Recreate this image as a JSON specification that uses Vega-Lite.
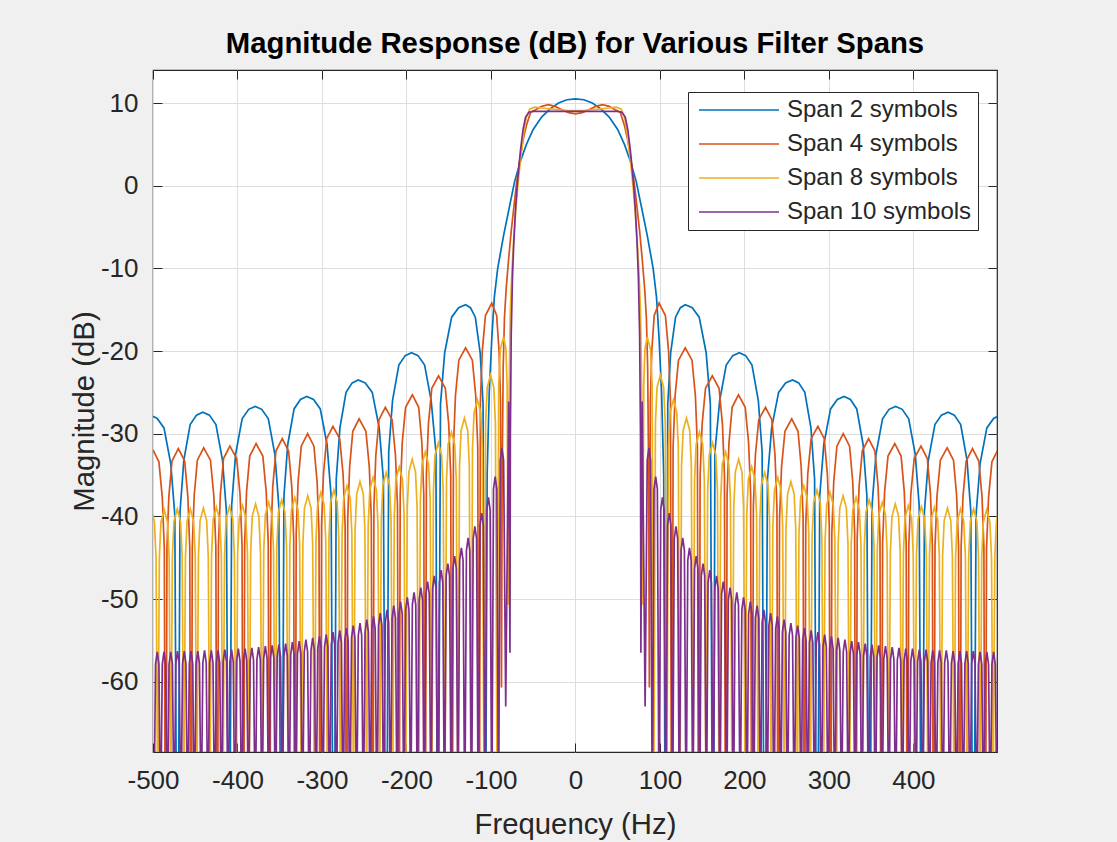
{
"$schema": "https://vega.github.io/schema/vega-lite/v6.json",
"width": 844,
"height": 682,
"autosize": {"type": "none"},
"padding": {"left": 153, "top": 70, "right": 120, "bottom": 90},
"background": "#f0f0f0",
"title": {"text": "Magnitude Response (dB) for Various Filter Spans", "font": "Liberation Sans", "fontSize": 29.3, "fontWeight": "bold", "color": "#000000", "anchor": "middle", "offset": 10},
"config": {"view": {"stroke": "#262626", "strokeWidth": 1.2, "fill": "white"}},
"datasets": {
"s2": [
{"f":0,"d":10.5},{"f":10,"d":10.4},{"f":20,"d":10},{"f":30,"d":9.3},{"f":40,"d":8.3},{"f":50,"d":6.8},{"f":58,"d":5},{"f":65,"d":3},{"f":72,"d":0.5},{"f":78,"d":-2.5},{"f":85,"d":-6},{"f":92,"d":-10},{"f":96,"d":-13.5},{"f":99,"d":-18.5},{"f":102,"d":-25},{"f":104.5,"d":-35},{"f":107,"d":-100},
{"f":109.3,"d":-26.4},{"f":112.75,"d":-20.2},{"f":118.5,"d":-15.9},{"f":124.25,"d":-14.75},{"f":130,"d":-14.4},{"f":138.25,"d":-14.75},{"f":146.5,"d":-15.9},{"f":154.75,"d":-20.2},{"f":159.7,"d":-26.4},{"f":163,"d":-100},
{"f":165.1,"d":-32.2},{"f":170.75,"d":-26},{"f":178.5,"d":-21.7},{"f":186.25,"d":-20.55},{"f":194,"d":-20.2},{"f":201.5,"d":-20.55},{"f":209,"d":-21.7},{"f":216.5,"d":-26},{"f":221,"d":-32.2},{"f":224,"d":-100},
{"f":227.3,"d":-35.5},{"f":232.25,"d":-29.3},{"f":240.5,"d":-25},{"f":248.75,"d":-23.85},{"f":257,"d":-23.5},{"f":264.25,"d":-23.85},{"f":271.5,"d":-25},{"f":278.75,"d":-29.3},{"f":283.1,"d":-35.5},{"f":286,"d":-100},
{"f":289.2,"d":-37.5},{"f":294,"d":-31.3},{"f":302,"d":-27},{"f":310,"d":-25.85},{"f":318,"d":-25.5},{"f":325.5,"d":-25.85},{"f":333,"d":-27},{"f":340.5,"d":-31.3},{"f":345,"d":-37.5},{"f":348,"d":-100},
{"f":351.1,"d":-38.7},{"f":355.75,"d":-32.5},{"f":363.5,"d":-28.2},{"f":371.25,"d":-27.05},{"f":379,"d":-26.7},{"f":386.75,"d":-27.05},{"f":394.5,"d":-28.2},{"f":402.25,"d":-32.5},{"f":406.9,"d":-38.7},{"f":410,"d":-100},
{"f":413.1,"d":-39.4},{"f":417.75,"d":-33.2},{"f":425.5,"d":-28.9},{"f":433.25,"d":-27.75},{"f":441,"d":-27.4},{"f":448.5,"d":-27.75},{"f":456,"d":-28.9},{"f":463.5,"d":-33.2},{"f":468,"d":-39.4},{"f":471,"d":-100},
{"f":474.2,"d":-39.8},{"f":479,"d":-33.6},{"f":487,"d":-29.3},{"f":495,"d":-28.15},{"f":500,"d":-27.9},
{"f":-10,"d":10.4},{"f":-20,"d":10},{"f":-30,"d":9.3},{"f":-40,"d":8.3},{"f":-50,"d":6.8},{"f":-58,"d":5},{"f":-65,"d":3},{"f":-72,"d":0.5},{"f":-78,"d":-2.5},{"f":-85,"d":-6},{"f":-92,"d":-10},{"f":-96,"d":-13.5},{"f":-99,"d":-18.5},{"f":-102,"d":-25},{"f":-104.5,"d":-35},{"f":-107,"d":-100},
{"f":-109.3,"d":-26.4},{"f":-112.75,"d":-20.2},{"f":-118.5,"d":-15.9},{"f":-124.25,"d":-14.75},{"f":-130,"d":-14.4},{"f":-138.25,"d":-14.75},{"f":-146.5,"d":-15.9},{"f":-154.75,"d":-20.2},{"f":-159.7,"d":-26.4},{"f":-163,"d":-100},
{"f":-165.1,"d":-32.2},{"f":-170.75,"d":-26},{"f":-178.5,"d":-21.7},{"f":-186.25,"d":-20.55},{"f":-194,"d":-20.2},{"f":-201.5,"d":-20.55},{"f":-209,"d":-21.7},{"f":-216.5,"d":-26},{"f":-221,"d":-32.2},{"f":-224,"d":-100},
{"f":-227.3,"d":-35.5},{"f":-232.25,"d":-29.3},{"f":-240.5,"d":-25},{"f":-248.75,"d":-23.85},{"f":-257,"d":-23.5},{"f":-264.25,"d":-23.85},{"f":-271.5,"d":-25},{"f":-278.75,"d":-29.3},{"f":-283.1,"d":-35.5},{"f":-286,"d":-100},
{"f":-289.2,"d":-37.5},{"f":-294,"d":-31.3},{"f":-302,"d":-27},{"f":-310,"d":-25.85},{"f":-318,"d":-25.5},{"f":-325.5,"d":-25.85},{"f":-333,"d":-27},{"f":-340.5,"d":-31.3},{"f":-345,"d":-37.5},{"f":-348,"d":-100},
{"f":-351.1,"d":-38.7},{"f":-355.75,"d":-32.5},{"f":-363.5,"d":-28.2},{"f":-371.25,"d":-27.05},{"f":-379,"d":-26.7},{"f":-386.75,"d":-27.05},{"f":-394.5,"d":-28.2},{"f":-402.25,"d":-32.5},{"f":-406.9,"d":-38.7},{"f":-410,"d":-100},
{"f":-413.1,"d":-39.4},{"f":-417.75,"d":-33.2},{"f":-425.5,"d":-28.9},{"f":-433.25,"d":-27.75},{"f":-441,"d":-27.4},{"f":-448.5,"d":-27.75},{"f":-456,"d":-28.9},{"f":-463.5,"d":-33.2},{"f":-468,"d":-39.4},{"f":-471,"d":-100},
{"f":-474.2,"d":-39.8},{"f":-479,"d":-33.6},{"f":-487,"d":-29.3},{"f":-495,"d":-28.15},{"f":-500,"d":-27.9}
],
"s4": [
{"f":0,"d":8.7},{"f":8,"d":8.85},{"f":16,"d":9.2},{"f":24,"d":9.6},{"f":32,"d":9.8},{"f":40,"d":9.6},{"f":47,"d":9.2},{"f":53,"d":8.9},{"f":58,"d":7.3},{"f":62,"d":5.5},{"f":66,"d":3},{"f":70,"d":0},{"f":73,"d":-2.7},{"f":76,"d":-5.5},{"f":79,"d":-8.8},{"f":82,"d":-12.5},{"f":84,"d":-16},{"f":85.5,"d":-22},{"f":86.7,"d":-35},{"f":87.5,"d":-60.7},
{"f":88.65,"d":-26.2},{"f":90.4,"d":-20},{"f":93.25,"d":-15.7},{"f":99,"d":-14.2},{"f":106.5,"d":-15.7},{"f":110.25,"d":-20},{"f":112.5,"d":-26.2},{"f":114,"d":-100},
{"f":115.6,"d":-31.6},{"f":118,"d":-25.4},{"f":122,"d":-21.1},{"f":130,"d":-19.6},{"f":138,"d":-21.1},{"f":142,"d":-25.4},{"f":144.4,"d":-31.6},{"f":146,"d":-100},
{"f":147.6,"d":-35},{"f":150,"d":-28.8},{"f":154,"d":-24.5},{"f":162,"d":-23},{"f":170,"d":-24.5},{"f":174,"d":-28.8},{"f":176.4,"d":-35},{"f":178,"d":-100},
{"f":179.5,"d":-37.3},{"f":181.75,"d":-31.1},{"f":185.5,"d":-26.8},{"f":193,"d":-25.3},{"f":201,"d":-26.8},{"f":205,"d":-31.1},{"f":207.4,"d":-37.3},{"f":209,"d":-100},
{"f":210.6,"d":-38.8},{"f":213,"d":-32.6},{"f":217,"d":-28.3},{"f":225,"d":-26.8},{"f":232.5,"d":-28.3},{"f":236.25,"d":-32.6},{"f":238.5,"d":-38.8},{"f":240,"d":-100},
{"f":241.6,"d":-40.2},{"f":244,"d":-34},{"f":248,"d":-29.7},{"f":256,"d":-28.2},{"f":263.5,"d":-29.7},{"f":267.25,"d":-34},{"f":269.5,"d":-40.2},{"f":271,"d":-100},
{"f":272.6,"d":-41.1},{"f":275,"d":-34.9},{"f":279,"d":-30.6},{"f":287,"d":-29.1},{"f":294.5,"d":-30.6},{"f":298.25,"d":-34.9},{"f":300.5,"d":-41.1},{"f":302,"d":-100},
{"f":303.5,"d":-42},{"f":305.75,"d":-35.8},{"f":309.5,"d":-31.5},{"f":317,"d":-30},{"f":324.5,"d":-31.5},{"f":328.25,"d":-35.8},{"f":330.5,"d":-42},{"f":332,"d":-100},
{"f":333.5,"d":-42.6},{"f":335.75,"d":-36.4},{"f":339.5,"d":-32.1},{"f":347,"d":-30.6},{"f":354.5,"d":-32.1},{"f":358.25,"d":-36.4},{"f":360.5,"d":-42.6},{"f":362,"d":-100},
{"f":363.6,"d":-43.2},{"f":366,"d":-37},{"f":370,"d":-32.7},{"f":378,"d":-31.2},{"f":385.5,"d":-32.7},{"f":389.25,"d":-37},{"f":391.5,"d":-43.2},{"f":393,"d":-100},
{"f":394.6,"d":-43.5},{"f":397,"d":-37.3},{"f":401,"d":-33},{"f":409,"d":-31.5},{"f":416.5,"d":-33},{"f":420.25,"d":-37.3},{"f":422.5,"d":-43.5},{"f":424,"d":-100},
{"f":425.6,"d":-43.7},{"f":428,"d":-37.5},{"f":432,"d":-33.2},{"f":440,"d":-31.7},{"f":447.5,"d":-33.2},{"f":451.25,"d":-37.5},{"f":453.5,"d":-43.7},{"f":455,"d":-100},
{"f":456.5,"d":-43.8},{"f":458.75,"d":-37.6},{"f":462.5,"d":-33.3},{"f":470,"d":-31.8},{"f":477.5,"d":-33.3},{"f":481.25,"d":-37.6},{"f":483.5,"d":-43.8},{"f":485,"d":-100},
{"f":486.6,"d":-43.9},{"f":489,"d":-37.7},{"f":493,"d":-33.4},{"f":500,"d":-31.95},
{"f":-8,"d":8.85},{"f":-16,"d":9.2},{"f":-24,"d":9.6},{"f":-32,"d":9.8},{"f":-40,"d":9.6},{"f":-47,"d":9.2},{"f":-53,"d":8.9},{"f":-58,"d":7.3},{"f":-62,"d":5.5},{"f":-66,"d":3},{"f":-70,"d":0},{"f":-73,"d":-2.7},{"f":-76,"d":-5.5},{"f":-79,"d":-8.8},{"f":-82,"d":-12.5},{"f":-84,"d":-16},{"f":-85.5,"d":-22},{"f":-86.7,"d":-35},{"f":-87.5,"d":-60.7},
{"f":-88.65,"d":-26.2},{"f":-90.4,"d":-20},{"f":-93.25,"d":-15.7},{"f":-99,"d":-14.2},{"f":-106.5,"d":-15.7},{"f":-110.25,"d":-20},{"f":-112.5,"d":-26.2},{"f":-114,"d":-100},
{"f":-115.6,"d":-31.6},{"f":-118,"d":-25.4},{"f":-122,"d":-21.1},{"f":-130,"d":-19.6},{"f":-138,"d":-21.1},{"f":-142,"d":-25.4},{"f":-144.4,"d":-31.6},{"f":-146,"d":-100},
{"f":-147.6,"d":-35},{"f":-150,"d":-28.8},{"f":-154,"d":-24.5},{"f":-162,"d":-23},{"f":-170,"d":-24.5},{"f":-174,"d":-28.8},{"f":-176.4,"d":-35},{"f":-178,"d":-100},
{"f":-179.5,"d":-37.3},{"f":-181.75,"d":-31.1},{"f":-185.5,"d":-26.8},{"f":-193,"d":-25.3},{"f":-201,"d":-26.8},{"f":-205,"d":-31.1},{"f":-207.4,"d":-37.3},{"f":-209,"d":-100},
{"f":-210.6,"d":-38.8},{"f":-213,"d":-32.6},{"f":-217,"d":-28.3},{"f":-225,"d":-26.8},{"f":-232.5,"d":-28.3},{"f":-236.25,"d":-32.6},{"f":-238.5,"d":-38.8},{"f":-240,"d":-100},
{"f":-241.6,"d":-40.2},{"f":-244,"d":-34},{"f":-248,"d":-29.7},{"f":-256,"d":-28.2},{"f":-263.5,"d":-29.7},{"f":-267.25,"d":-34},{"f":-269.5,"d":-40.2},{"f":-271,"d":-100},
{"f":-272.6,"d":-41.1},{"f":-275,"d":-34.9},{"f":-279,"d":-30.6},{"f":-287,"d":-29.1},{"f":-294.5,"d":-30.6},{"f":-298.25,"d":-34.9},{"f":-300.5,"d":-41.1},{"f":-302,"d":-100},
{"f":-303.5,"d":-42},{"f":-305.75,"d":-35.8},{"f":-309.5,"d":-31.5},{"f":-317,"d":-30},{"f":-324.5,"d":-31.5},{"f":-328.25,"d":-35.8},{"f":-330.5,"d":-42},{"f":-332,"d":-100},
{"f":-333.5,"d":-42.6},{"f":-335.75,"d":-36.4},{"f":-339.5,"d":-32.1},{"f":-347,"d":-30.6},{"f":-354.5,"d":-32.1},{"f":-358.25,"d":-36.4},{"f":-360.5,"d":-42.6},{"f":-362,"d":-100},
{"f":-363.6,"d":-43.2},{"f":-366,"d":-37},{"f":-370,"d":-32.7},{"f":-378,"d":-31.2},{"f":-385.5,"d":-32.7},{"f":-389.25,"d":-37},{"f":-391.5,"d":-43.2},{"f":-393,"d":-100},
{"f":-394.6,"d":-43.5},{"f":-397,"d":-37.3},{"f":-401,"d":-33},{"f":-409,"d":-31.5},{"f":-416.5,"d":-33},{"f":-420.25,"d":-37.3},{"f":-422.5,"d":-43.5},{"f":-424,"d":-100},
{"f":-425.6,"d":-43.7},{"f":-428,"d":-37.5},{"f":-432,"d":-33.2},{"f":-440,"d":-31.7},{"f":-447.5,"d":-33.2},{"f":-451.25,"d":-37.5},{"f":-453.5,"d":-43.7},{"f":-455,"d":-100},
{"f":-456.5,"d":-43.8},{"f":-458.75,"d":-37.6},{"f":-462.5,"d":-33.3},{"f":-470,"d":-31.8},{"f":-477.5,"d":-33.3},{"f":-481.25,"d":-37.6},{"f":-483.5,"d":-43.8},{"f":-485,"d":-100},
{"f":-486.6,"d":-43.9},{"f":-489,"d":-37.7},{"f":-493,"d":-33.4},{"f":-500,"d":-31.95}
],
"s8": [
{"f":0,"d":9.1},{"f":10,"d":9.1},{"f":20,"d":9.2},{"f":30,"d":9.3},{"f":40,"d":9.4},{"f":48,"d":9.5},{"f":54,"d":9.3},{"f":58,"d":8.3},{"f":61,"d":6.5},{"f":64,"d":4},{"f":67,"d":1.2},{"f":69,"d":-1},{"f":71,"d":-3.5},{"f":73,"d":-6.5},{"f":75,"d":-10},{"f":77,"d":-15},{"f":78.5,"d":-25},{"f":79.5,"d":-50.7},
{"f":80.9,"d":-24.1},{"f":82.25,"d":-19.8},{"f":85,"d":-18.3},{"f":88.9,"d":-19.8},{"f":90.8,"d":-24.1},{"f":92.7,"d":-75},
{"f":94.7,"d":-28.7},{"f":96.6,"d":-24.4},{"f":100.5,"d":-22.9},{"f":104.4,"d":-24.4},{"f":106.3,"d":-28.7},{"f":108.2,"d":-75},
{"f":110.2,"d":-31.7},{"f":112.1,"d":-27.4},{"f":116,"d":-25.9},{"f":119.9,"d":-27.4},{"f":121.8,"d":-31.7},{"f":123.7,"d":-75},
{"f":125.6,"d":-33.9},{"f":127.5,"d":-29.6},{"f":131.4,"d":-28.1},{"f":135.3,"d":-29.6},{"f":137.2,"d":-33.9},{"f":139.1,"d":-75},
{"f":141,"d":-35.6},{"f":142.9,"d":-31.3},{"f":146.8,"d":-29.8},{"f":150.7,"d":-31.3},{"f":152.6,"d":-35.6},{"f":154.5,"d":-75},
{"f":156.5,"d":-36.9},{"f":158.4,"d":-32.6},{"f":162.3,"d":-31.1},{"f":166.2,"d":-32.6},{"f":168.1,"d":-36.9},{"f":170,"d":-75},
{"f":171.9,"d":-38},{"f":173.8,"d":-33.7},{"f":177.7,"d":-32.2},{"f":181.6,"d":-33.7},{"f":183.5,"d":-38},{"f":185.4,"d":-75},
{"f":187.4,"d":-38.9},{"f":189.3,"d":-34.6},{"f":193.2,"d":-33.1},{"f":197.1,"d":-34.6},{"f":199,"d":-38.9},{"f":200.9,"d":-75},
{"f":202.8,"d":-39.8},{"f":204.7,"d":-35.5},{"f":208.6,"d":-34},{"f":212.5,"d":-35.5},{"f":214.4,"d":-39.8},{"f":216.3,"d":-75},
{"f":218.2,"d":-40.5},{"f":220.1,"d":-36.2},{"f":224,"d":-34.7},{"f":227.9,"d":-36.2},{"f":229.8,"d":-40.5},{"f":231.7,"d":-75},
{"f":233.7,"d":-41.1},{"f":235.6,"d":-36.8},{"f":239.5,"d":-35.3},{"f":243.4,"d":-36.8},{"f":245.3,"d":-41.1},{"f":247.2,"d":-75},
{"f":249.2,"d":-41.6},{"f":251.1,"d":-37.3},{"f":255,"d":-35.8},{"f":258.9,"d":-37.3},{"f":260.8,"d":-41.6},{"f":262.7,"d":-75},
{"f":264.6,"d":-42.1},{"f":266.5,"d":-37.8},{"f":270.4,"d":-36.3},{"f":274.3,"d":-37.8},{"f":276.2,"d":-42.1},{"f":278.1,"d":-75},
{"f":280.1,"d":-42.6},{"f":282,"d":-38.3},{"f":285.9,"d":-36.8},{"f":289.8,"d":-38.3},{"f":291.7,"d":-42.6},{"f":293.6,"d":-75},
{"f":295.5,"d":-42.9},{"f":297.4,"d":-38.6},{"f":301.3,"d":-37.1},{"f":305.2,"d":-38.6},{"f":307.1,"d":-42.9},{"f":309,"d":-75},
{"f":311,"d":-43.3},{"f":312.9,"d":-39},{"f":316.8,"d":-37.5},{"f":320.7,"d":-39},{"f":322.6,"d":-43.3},{"f":324.5,"d":-75},
{"f":326.4,"d":-43.5},{"f":328.3,"d":-39.2},{"f":332.2,"d":-37.7},{"f":336.1,"d":-39.2},{"f":338,"d":-43.5},{"f":339.9,"d":-75},
{"f":341.9,"d":-43.8},{"f":343.8,"d":-39.5},{"f":347.7,"d":-38},{"f":351.6,"d":-39.5},{"f":353.5,"d":-43.8},{"f":355.4,"d":-75},
{"f":357.3,"d":-44.1},{"f":359.2,"d":-39.8},{"f":363.1,"d":-38.3},{"f":367,"d":-39.8},{"f":368.9,"d":-44.1},{"f":370.8,"d":-75},
{"f":372.8,"d":-44.3},{"f":374.7,"d":-40},{"f":378.6,"d":-38.5},{"f":382.5,"d":-40},{"f":384.4,"d":-44.3},{"f":386.3,"d":-75},
{"f":388.2,"d":-44.5},{"f":390.1,"d":-40.2},{"f":394,"d":-38.7},{"f":397.9,"d":-40.2},{"f":399.8,"d":-44.5},{"f":401.7,"d":-75},
{"f":403.7,"d":-44.6},{"f":405.6,"d":-40.3},{"f":409.5,"d":-38.8},{"f":413.4,"d":-40.3},{"f":415.3,"d":-44.6},{"f":417.2,"d":-75},
{"f":419.1,"d":-44.7},{"f":421,"d":-40.4},{"f":424.9,"d":-38.9},{"f":428.8,"d":-40.4},{"f":430.7,"d":-44.7},{"f":432.6,"d":-75},
{"f":434.6,"d":-44.8},{"f":436.5,"d":-40.5},{"f":440.4,"d":-39},{"f":444.3,"d":-40.5},{"f":446.2,"d":-44.8},{"f":448.1,"d":-75},
{"f":450,"d":-44.9},{"f":451.9,"d":-40.6},{"f":455.8,"d":-39.1},{"f":459.7,"d":-40.6},{"f":461.6,"d":-44.9},{"f":463.5,"d":-75},
{"f":465.5,"d":-44.9},{"f":467.4,"d":-40.6},{"f":471.3,"d":-39.1},{"f":475.2,"d":-40.6},{"f":477.1,"d":-44.9},{"f":479,"d":-75},
{"f":480.9,"d":-45},{"f":482.8,"d":-40.7},{"f":486.7,"d":-39.2},{"f":490.6,"d":-40.7},{"f":492.5,"d":-45},{"f":494.4,"d":-75},
{"f":496.4,"d":-45},{"f":498.3,"d":-40.7},{"f":500,"d":-39.8},
{"f":-10,"d":9.1},{"f":-20,"d":9.2},{"f":-30,"d":9.3},{"f":-40,"d":9.4},{"f":-48,"d":9.5},{"f":-54,"d":9.3},{"f":-58,"d":8.3},{"f":-61,"d":6.5},{"f":-64,"d":4},{"f":-67,"d":1.2},{"f":-69,"d":-1},{"f":-71,"d":-3.5},{"f":-73,"d":-6.5},{"f":-75,"d":-10},{"f":-77,"d":-15},{"f":-78.5,"d":-25},{"f":-79.5,"d":-50.7},
{"f":-80.9,"d":-24.1},{"f":-82.25,"d":-19.8},{"f":-85,"d":-18.3},{"f":-88.9,"d":-19.8},{"f":-90.8,"d":-24.1},{"f":-92.7,"d":-75},
{"f":-94.7,"d":-28.7},{"f":-96.6,"d":-24.4},{"f":-100.5,"d":-22.9},{"f":-104.4,"d":-24.4},{"f":-106.3,"d":-28.7},{"f":-108.2,"d":-75},
{"f":-110.2,"d":-31.7},{"f":-112.1,"d":-27.4},{"f":-116,"d":-25.9},{"f":-119.9,"d":-27.4},{"f":-121.8,"d":-31.7},{"f":-123.7,"d":-75},
{"f":-125.6,"d":-33.9},{"f":-127.5,"d":-29.6},{"f":-131.4,"d":-28.1},{"f":-135.3,"d":-29.6},{"f":-137.2,"d":-33.9},{"f":-139.1,"d":-75},
{"f":-141,"d":-35.6},{"f":-142.9,"d":-31.3},{"f":-146.8,"d":-29.8},{"f":-150.7,"d":-31.3},{"f":-152.6,"d":-35.6},{"f":-154.5,"d":-75},
{"f":-156.5,"d":-36.9},{"f":-158.4,"d":-32.6},{"f":-162.3,"d":-31.1},{"f":-166.2,"d":-32.6},{"f":-168.1,"d":-36.9},{"f":-170,"d":-75},
{"f":-171.9,"d":-38},{"f":-173.8,"d":-33.7},{"f":-177.7,"d":-32.2},{"f":-181.6,"d":-33.7},{"f":-183.5,"d":-38},{"f":-185.4,"d":-75},
{"f":-187.4,"d":-38.9},{"f":-189.3,"d":-34.6},{"f":-193.2,"d":-33.1},{"f":-197.1,"d":-34.6},{"f":-199,"d":-38.9},{"f":-200.9,"d":-75},
{"f":-202.8,"d":-39.8},{"f":-204.7,"d":-35.5},{"f":-208.6,"d":-34},{"f":-212.5,"d":-35.5},{"f":-214.4,"d":-39.8},{"f":-216.3,"d":-75},
{"f":-218.2,"d":-40.5},{"f":-220.1,"d":-36.2},{"f":-224,"d":-34.7},{"f":-227.9,"d":-36.2},{"f":-229.8,"d":-40.5},{"f":-231.7,"d":-75},
{"f":-233.7,"d":-41.1},{"f":-235.6,"d":-36.8},{"f":-239.5,"d":-35.3},{"f":-243.4,"d":-36.8},{"f":-245.3,"d":-41.1},{"f":-247.2,"d":-75},
{"f":-249.2,"d":-41.6},{"f":-251.1,"d":-37.3},{"f":-255,"d":-35.8},{"f":-258.9,"d":-37.3},{"f":-260.8,"d":-41.6},{"f":-262.7,"d":-75},
{"f":-264.6,"d":-42.1},{"f":-266.5,"d":-37.8},{"f":-270.4,"d":-36.3},{"f":-274.3,"d":-37.8},{"f":-276.2,"d":-42.1},{"f":-278.1,"d":-75},
{"f":-280.1,"d":-42.6},{"f":-282,"d":-38.3},{"f":-285.9,"d":-36.8},{"f":-289.8,"d":-38.3},{"f":-291.7,"d":-42.6},{"f":-293.6,"d":-75},
{"f":-295.5,"d":-42.9},{"f":-297.4,"d":-38.6},{"f":-301.3,"d":-37.1},{"f":-305.2,"d":-38.6},{"f":-307.1,"d":-42.9},{"f":-309,"d":-75},
{"f":-311,"d":-43.3},{"f":-312.9,"d":-39},{"f":-316.8,"d":-37.5},{"f":-320.7,"d":-39},{"f":-322.6,"d":-43.3},{"f":-324.5,"d":-75},
{"f":-326.4,"d":-43.5},{"f":-328.3,"d":-39.2},{"f":-332.2,"d":-37.7},{"f":-336.1,"d":-39.2},{"f":-338,"d":-43.5},{"f":-339.9,"d":-75},
{"f":-341.9,"d":-43.8},{"f":-343.8,"d":-39.5},{"f":-347.7,"d":-38},{"f":-351.6,"d":-39.5},{"f":-353.5,"d":-43.8},{"f":-355.4,"d":-75},
{"f":-357.3,"d":-44.1},{"f":-359.2,"d":-39.8},{"f":-363.1,"d":-38.3},{"f":-367,"d":-39.8},{"f":-368.9,"d":-44.1},{"f":-370.8,"d":-75},
{"f":-372.8,"d":-44.3},{"f":-374.7,"d":-40},{"f":-378.6,"d":-38.5},{"f":-382.5,"d":-40},{"f":-384.4,"d":-44.3},{"f":-386.3,"d":-75},
{"f":-388.2,"d":-44.5},{"f":-390.1,"d":-40.2},{"f":-394,"d":-38.7},{"f":-397.9,"d":-40.2},{"f":-399.8,"d":-44.5},{"f":-401.7,"d":-75},
{"f":-403.7,"d":-44.6},{"f":-405.6,"d":-40.3},{"f":-409.5,"d":-38.8},{"f":-413.4,"d":-40.3},{"f":-415.3,"d":-44.6},{"f":-417.2,"d":-75},
{"f":-419.1,"d":-44.7},{"f":-421,"d":-40.4},{"f":-424.9,"d":-38.9},{"f":-428.8,"d":-40.4},{"f":-430.7,"d":-44.7},{"f":-432.6,"d":-75},
{"f":-434.6,"d":-44.8},{"f":-436.5,"d":-40.5},{"f":-440.4,"d":-39},{"f":-444.3,"d":-40.5},{"f":-446.2,"d":-44.8},{"f":-448.1,"d":-75},
{"f":-450,"d":-44.9},{"f":-451.9,"d":-40.6},{"f":-455.8,"d":-39.1},{"f":-459.7,"d":-40.6},{"f":-461.6,"d":-44.9},{"f":-463.5,"d":-75},
{"f":-465.5,"d":-44.9},{"f":-467.4,"d":-40.6},{"f":-471.3,"d":-39.1},{"f":-475.2,"d":-40.6},{"f":-477.1,"d":-44.9},{"f":-479,"d":-75},
{"f":-480.9,"d":-45},{"f":-482.8,"d":-40.7},{"f":-486.7,"d":-39.2},{"f":-490.6,"d":-40.7},{"f":-492.5,"d":-45},{"f":-494.4,"d":-75},
{"f":-496.4,"d":-45},{"f":-498.3,"d":-40.7},{"f":-500,"d":-39.8}
],
"s10": [
{"f":0,"d":9},{"f":20,"d":9},{"f":40,"d":9},{"f":50,"d":9},{"f":55,"d":8.9},{"f":59,"d":8.3},{"f":62,"d":6.8},{"f":65,"d":4.3},{"f":67,"d":2.2},{"f":69,"d":0},{"f":71,"d":-3},{"f":73,"d":-7},{"f":74.5,"d":-11},{"f":76,"d":-18},{"f":77,"d":-30},{"f":77.5,"d":-56.5},{"f":79,"d":-26.1},{"f":82.5,"d":-63},
{"f":85,"d":-33.2},{"f":87,"d":-31.7},{"f":89,"d":-33.2},{"f":91,"d":-78},
{"f":93,"d":-36.7},{"f":95,"d":-35.2},{"f":97,"d":-36.7},{"f":99,"d":-78},
{"f":101,"d":-39.2},{"f":103,"d":-37.7},{"f":105,"d":-39.2},{"f":107,"d":-78},
{"f":109,"d":-41.1},{"f":111,"d":-39.6},{"f":113,"d":-41.1},{"f":115,"d":-78},
{"f":117,"d":-42.7},{"f":119,"d":-41.2},{"f":121,"d":-42.7},{"f":123,"d":-78},
{"f":125,"d":-44.1},{"f":127,"d":-42.6},{"f":129,"d":-44.1},{"f":131,"d":-78},
{"f":133,"d":-45.3},{"f":135,"d":-43.8},{"f":137,"d":-45.3},{"f":139,"d":-78},
{"f":141,"d":-46.3},{"f":143,"d":-44.8},{"f":145,"d":-46.3},{"f":147,"d":-78},
{"f":149,"d":-47.2},{"f":151,"d":-45.7},{"f":153,"d":-47.2},{"f":155,"d":-78},
{"f":157,"d":-48},{"f":159,"d":-46.5},{"f":161,"d":-48},{"f":163,"d":-78},
{"f":165,"d":-48.7},{"f":167,"d":-47.2},{"f":169,"d":-48.7},{"f":171,"d":-78},
{"f":173,"d":-49.4},{"f":175,"d":-47.9},{"f":177,"d":-49.4},{"f":179,"d":-78},
{"f":181,"d":-50.1},{"f":183,"d":-48.6},{"f":185,"d":-50.1},{"f":187,"d":-78},
{"f":189,"d":-50.7},{"f":191,"d":-49.2},{"f":193,"d":-50.7},{"f":195,"d":-78},
{"f":197,"d":-51.3},{"f":199,"d":-49.8},{"f":201,"d":-51.3},{"f":203,"d":-78},
{"f":205,"d":-51.8},{"f":207,"d":-50.3},{"f":209,"d":-51.8},{"f":211,"d":-78},
{"f":213,"d":-52.3},{"f":215,"d":-50.8},{"f":217,"d":-52.3},{"f":219,"d":-78},
{"f":221,"d":-52.8},{"f":223,"d":-51.3},{"f":225,"d":-52.8},{"f":227,"d":-78},
{"f":229,"d":-53.2},{"f":231,"d":-51.7},{"f":233,"d":-53.2},{"f":235,"d":-78},
{"f":237,"d":-53.6},{"f":239,"d":-52.1},{"f":241,"d":-53.6},{"f":243,"d":-78},
{"f":245,"d":-54},{"f":247,"d":-52.5},{"f":249,"d":-54},{"f":251,"d":-78},
{"f":253,"d":-54.4},{"f":255,"d":-52.9},{"f":257,"d":-54.4},{"f":259,"d":-78},
{"f":261,"d":-54.7},{"f":263,"d":-53.2},{"f":265,"d":-54.7},{"f":267,"d":-78},
{"f":269,"d":-55},{"f":271,"d":-53.5},{"f":273,"d":-55},{"f":275,"d":-78},
{"f":277,"d":-55.3},{"f":279,"d":-53.8},{"f":281,"d":-55.3},{"f":283,"d":-78},
{"f":285,"d":-55.5},{"f":287,"d":-54},{"f":289,"d":-55.5},{"f":291,"d":-78},
{"f":293,"d":-55.8},{"f":295,"d":-54.3},{"f":297,"d":-55.8},{"f":299,"d":-78},
{"f":301,"d":-56},{"f":303,"d":-54.5},{"f":305,"d":-56},{"f":307,"d":-78},
{"f":309,"d":-56.2},{"f":311,"d":-54.7},{"f":313,"d":-56.2},{"f":315,"d":-78},
{"f":317,"d":-56.4},{"f":319,"d":-54.9},{"f":321,"d":-56.4},{"f":323,"d":-78},
{"f":325,"d":-56.6},{"f":327,"d":-55.1},{"f":329,"d":-56.6},{"f":331,"d":-78},
{"f":333,"d":-56.7},{"f":335,"d":-55.2},{"f":337,"d":-56.7},{"f":339,"d":-78},
{"f":341,"d":-56.9},{"f":343,"d":-55.4},{"f":345,"d":-56.9},{"f":347,"d":-78},
{"f":349,"d":-57},{"f":351,"d":-55.5},{"f":353,"d":-57},{"f":355,"d":-78},
{"f":357,"d":-57.1},{"f":359,"d":-55.6},{"f":361,"d":-57.1},{"f":363,"d":-78},
{"f":365,"d":-57.2},{"f":367,"d":-55.7},{"f":369,"d":-57.2},{"f":371,"d":-78},
{"f":373,"d":-57.3},{"f":375,"d":-55.8},{"f":377,"d":-57.3},{"f":379,"d":-78},
{"f":381,"d":-57.4},{"f":383,"d":-55.9},{"f":385,"d":-57.4},{"f":387,"d":-78},
{"f":389,"d":-57.5},{"f":391,"d":-56},{"f":393,"d":-57.5},{"f":395,"d":-78},
{"f":397,"d":-57.5},{"f":399,"d":-56},{"f":401,"d":-57.5},{"f":403,"d":-78},
{"f":405,"d":-57.6},{"f":407,"d":-56.1},{"f":409,"d":-57.6},{"f":411,"d":-78},
{"f":413,"d":-57.6},{"f":415,"d":-56.1},{"f":417,"d":-57.6},{"f":419,"d":-78},
{"f":421,"d":-57.7},{"f":423,"d":-56.2},{"f":425,"d":-57.7},{"f":427,"d":-78},
{"f":429,"d":-57.7},{"f":431,"d":-56.2},{"f":433,"d":-57.7},{"f":435,"d":-78},
{"f":437,"d":-57.7},{"f":439,"d":-56.2},{"f":441,"d":-57.7},{"f":443,"d":-78},
{"f":445,"d":-57.8},{"f":447,"d":-56.3},{"f":449,"d":-57.8},{"f":451,"d":-78},
{"f":453,"d":-57.8},{"f":455,"d":-56.3},{"f":457,"d":-57.8},{"f":459,"d":-78},
{"f":461,"d":-57.8},{"f":463,"d":-56.3},{"f":465,"d":-57.8},{"f":467,"d":-78},
{"f":469,"d":-57.8},{"f":471,"d":-56.3},{"f":473,"d":-57.8},{"f":475,"d":-78},
{"f":477,"d":-57.9},{"f":479,"d":-56.4},{"f":481,"d":-57.9},{"f":483,"d":-78},
{"f":485,"d":-57.9},{"f":487,"d":-56.4},{"f":489,"d":-57.9},{"f":491,"d":-78},
{"f":493,"d":-57.9},{"f":495,"d":-56.4},{"f":497,"d":-57.9},{"f":499,"d":-78},
{"f":-20,"d":9},{"f":-40,"d":9},{"f":-50,"d":9},{"f":-55,"d":8.9},{"f":-59,"d":8.3},{"f":-62,"d":6.8},{"f":-65,"d":4.3},{"f":-67,"d":2.2},{"f":-69,"d":0},{"f":-71,"d":-3},{"f":-73,"d":-7},{"f":-74.5,"d":-11},{"f":-76,"d":-18},{"f":-77,"d":-30},{"f":-77.5,"d":-56.5},{"f":-79,"d":-26.1},{"f":-82.5,"d":-63},
{"f":-85,"d":-33.2},{"f":-87,"d":-31.7},{"f":-89,"d":-33.2},{"f":-91,"d":-78},
{"f":-93,"d":-36.7},{"f":-95,"d":-35.2},{"f":-97,"d":-36.7},{"f":-99,"d":-78},
{"f":-101,"d":-39.2},{"f":-103,"d":-37.7},{"f":-105,"d":-39.2},{"f":-107,"d":-78},
{"f":-109,"d":-41.1},{"f":-111,"d":-39.6},{"f":-113,"d":-41.1},{"f":-115,"d":-78},
{"f":-117,"d":-42.7},{"f":-119,"d":-41.2},{"f":-121,"d":-42.7},{"f":-123,"d":-78},
{"f":-125,"d":-44.1},{"f":-127,"d":-42.6},{"f":-129,"d":-44.1},{"f":-131,"d":-78},
{"f":-133,"d":-45.3},{"f":-135,"d":-43.8},{"f":-137,"d":-45.3},{"f":-139,"d":-78},
{"f":-141,"d":-46.3},{"f":-143,"d":-44.8},{"f":-145,"d":-46.3},{"f":-147,"d":-78},
{"f":-149,"d":-47.2},{"f":-151,"d":-45.7},{"f":-153,"d":-47.2},{"f":-155,"d":-78},
{"f":-157,"d":-48},{"f":-159,"d":-46.5},{"f":-161,"d":-48},{"f":-163,"d":-78},
{"f":-165,"d":-48.7},{"f":-167,"d":-47.2},{"f":-169,"d":-48.7},{"f":-171,"d":-78},
{"f":-173,"d":-49.4},{"f":-175,"d":-47.9},{"f":-177,"d":-49.4},{"f":-179,"d":-78},
{"f":-181,"d":-50.1},{"f":-183,"d":-48.6},{"f":-185,"d":-50.1},{"f":-187,"d":-78},
{"f":-189,"d":-50.7},{"f":-191,"d":-49.2},{"f":-193,"d":-50.7},{"f":-195,"d":-78},
{"f":-197,"d":-51.3},{"f":-199,"d":-49.8},{"f":-201,"d":-51.3},{"f":-203,"d":-78},
{"f":-205,"d":-51.8},{"f":-207,"d":-50.3},{"f":-209,"d":-51.8},{"f":-211,"d":-78},
{"f":-213,"d":-52.3},{"f":-215,"d":-50.8},{"f":-217,"d":-52.3},{"f":-219,"d":-78},
{"f":-221,"d":-52.8},{"f":-223,"d":-51.3},{"f":-225,"d":-52.8},{"f":-227,"d":-78},
{"f":-229,"d":-53.2},{"f":-231,"d":-51.7},{"f":-233,"d":-53.2},{"f":-235,"d":-78},
{"f":-237,"d":-53.6},{"f":-239,"d":-52.1},{"f":-241,"d":-53.6},{"f":-243,"d":-78},
{"f":-245,"d":-54},{"f":-247,"d":-52.5},{"f":-249,"d":-54},{"f":-251,"d":-78},
{"f":-253,"d":-54.4},{"f":-255,"d":-52.9},{"f":-257,"d":-54.4},{"f":-259,"d":-78},
{"f":-261,"d":-54.7},{"f":-263,"d":-53.2},{"f":-265,"d":-54.7},{"f":-267,"d":-78},
{"f":-269,"d":-55},{"f":-271,"d":-53.5},{"f":-273,"d":-55},{"f":-275,"d":-78},
{"f":-277,"d":-55.3},{"f":-279,"d":-53.8},{"f":-281,"d":-55.3},{"f":-283,"d":-78},
{"f":-285,"d":-55.5},{"f":-287,"d":-54},{"f":-289,"d":-55.5},{"f":-291,"d":-78},
{"f":-293,"d":-55.8},{"f":-295,"d":-54.3},{"f":-297,"d":-55.8},{"f":-299,"d":-78},
{"f":-301,"d":-56},{"f":-303,"d":-54.5},{"f":-305,"d":-56},{"f":-307,"d":-78},
{"f":-309,"d":-56.2},{"f":-311,"d":-54.7},{"f":-313,"d":-56.2},{"f":-315,"d":-78},
{"f":-317,"d":-56.4},{"f":-319,"d":-54.9},{"f":-321,"d":-56.4},{"f":-323,"d":-78},
{"f":-325,"d":-56.6},{"f":-327,"d":-55.1},{"f":-329,"d":-56.6},{"f":-331,"d":-78},
{"f":-333,"d":-56.7},{"f":-335,"d":-55.2},{"f":-337,"d":-56.7},{"f":-339,"d":-78},
{"f":-341,"d":-56.9},{"f":-343,"d":-55.4},{"f":-345,"d":-56.9},{"f":-347,"d":-78},
{"f":-349,"d":-57},{"f":-351,"d":-55.5},{"f":-353,"d":-57},{"f":-355,"d":-78},
{"f":-357,"d":-57.1},{"f":-359,"d":-55.6},{"f":-361,"d":-57.1},{"f":-363,"d":-78},
{"f":-365,"d":-57.2},{"f":-367,"d":-55.7},{"f":-369,"d":-57.2},{"f":-371,"d":-78},
{"f":-373,"d":-57.3},{"f":-375,"d":-55.8},{"f":-377,"d":-57.3},{"f":-379,"d":-78},
{"f":-381,"d":-57.4},{"f":-383,"d":-55.9},{"f":-385,"d":-57.4},{"f":-387,"d":-78},
{"f":-389,"d":-57.5},{"f":-391,"d":-56},{"f":-393,"d":-57.5},{"f":-395,"d":-78},
{"f":-397,"d":-57.5},{"f":-399,"d":-56},{"f":-401,"d":-57.5},{"f":-403,"d":-78},
{"f":-405,"d":-57.6},{"f":-407,"d":-56.1},{"f":-409,"d":-57.6},{"f":-411,"d":-78},
{"f":-413,"d":-57.6},{"f":-415,"d":-56.1},{"f":-417,"d":-57.6},{"f":-419,"d":-78},
{"f":-421,"d":-57.7},{"f":-423,"d":-56.2},{"f":-425,"d":-57.7},{"f":-427,"d":-78},
{"f":-429,"d":-57.7},{"f":-431,"d":-56.2},{"f":-433,"d":-57.7},{"f":-435,"d":-78},
{"f":-437,"d":-57.7},{"f":-439,"d":-56.2},{"f":-441,"d":-57.7},{"f":-443,"d":-78},
{"f":-445,"d":-57.8},{"f":-447,"d":-56.3},{"f":-449,"d":-57.8},{"f":-451,"d":-78},
{"f":-453,"d":-57.8},{"f":-455,"d":-56.3},{"f":-457,"d":-57.8},{"f":-459,"d":-78},
{"f":-461,"d":-57.8},{"f":-463,"d":-56.3},{"f":-465,"d":-57.8},{"f":-467,"d":-78},
{"f":-469,"d":-57.8},{"f":-471,"d":-56.3},{"f":-473,"d":-57.8},{"f":-475,"d":-78},
{"f":-477,"d":-57.9},{"f":-479,"d":-56.4},{"f":-481,"d":-57.9},{"f":-483,"d":-78},
{"f":-485,"d":-57.9},{"f":-487,"d":-56.4},{"f":-489,"d":-57.9},{"f":-491,"d":-78},
{"f":-493,"d":-57.9},{"f":-495,"d":-56.4},{"f":-497,"d":-57.9},{"f":-499,"d":-78}
]
},
"layer": [
{
"encoding": {
"x": {"field": "f", "type": "quantitative", "scale": {"domain": [-500, 499], "nice": false, "zero": false},
"axis": {"orient": "bottom", "values": [-500,-400,-300,-200,-100,0,100,200,300,400], "labelOverlap": false, "labelFlush": false, "labelExpr": "replace(datum.label, '\u2212', '-')", "title": "Frequency (Hz)", "grid": true, "gridColor": "#dedede", "domain": false, "tickSize": -9, "tickColor": "#262626", "labelFont": "Liberation Sans", "labelFontSize": 26, "labelColor": "#262626", "labelPadding": 24, "titleFont": "Liberation Sans", "titleFontSize": 29.3, "titleFontWeight": "normal", "titleColor": "#262626", "titlePadding": 17}},
"y": {"field": "d", "type": "quantitative", "scale": {"domain": [-68.5, 14], "nice": false, "zero": false},
"axis": {"orient": "left", "values": [-60,-50,-40,-30,-20,-10,0,10], "labelOverlap": false, "labelFlush": false, "labelExpr": "replace(datum.label, '\u2212', '-')", "title": "Magnitude (dB)", "grid": true, "gridColor": "#dedede", "domain": false, "tickSize": -9, "tickColor": "#262626", "labelFont": "Liberation Sans", "labelFontSize": 26, "labelColor": "#262626", "labelPadding": 24, "titleFont": "Liberation Sans", "titleFontSize": 29.3, "titleFontWeight": "normal", "titleColor": "#262626", "titlePadding": 1}}
},
"layer": [
{"data": {"name": "s2"}, "mark": {"type": "line", "clip": true, "strokeWidth": 1.7}, "encoding": {"color": {"datum": "Span 2 symbols", "type": "nominal",
"scale": {"domain": ["Span 2 symbols", "Span 4 symbols", "Span 8 symbols", "Span 10 symbols"], "range": ["#0072BD", "#D95319", "#EDB120", "#7E2F8E"]},
"legend": {"orient": "none", "legendX": 535, "legendY": 22, "title": null, "fillColor": "white", "strokeColor": "#262626", "padding": 6, "symbolType": "M-0.7,0H7.3", "symbolSize": 400, "symbolStrokeWidth": 1.5, "labelFont": "Liberation Sans", "labelFontSize": 24, "labelColor": "#262626", "labelOffset": 69, "labelLimit": 400, "rowPadding": 10}}}},
{"data": {"name": "s4"}, "mark": {"type": "line", "clip": true, "strokeWidth": 1.7}, "encoding": {"color": {"datum": "Span 4 symbols", "type": "nominal"}}},
{"data": {"name": "s8"}, "mark": {"type": "line", "clip": true, "strokeWidth": 1.7}, "encoding": {"color": {"datum": "Span 8 symbols", "type": "nominal"}}},
{"data": {"name": "s10"}, "mark": {"type": "line", "clip": true, "strokeWidth": 1.7}, "encoding": {"color": {"datum": "Span 10 symbols", "type": "nominal"}}}
]
},
{
"data": {"name": "s2"},
"mark": {"type": "line", "opacity": 0},
"encoding": {
"x": {"field": "f", "type": "quantitative", "scale": {"domain": [-500, 499], "nice": false, "zero": false},
"axis": {"orient": "top", "values": [-500,-400,-300,-200,-100,0,100,200,300,400], "title": null, "labels": false, "grid": false, "domain": false, "tickSize": -9, "tickColor": "#262626"}},
"y": {"field": "d", "type": "quantitative", "scale": {"domain": [-68.5, 14], "nice": false, "zero": false},
"axis": {"orient": "right", "values": [-60,-50,-40,-30,-20,-10,0,10], "title": null, "labels": false, "grid": false, "domain": false, "tickSize": -9, "tickColor": "#262626"}}
}
}
],
"resolve": {"axis": {"x": "independent", "y": "independent"}}
}
